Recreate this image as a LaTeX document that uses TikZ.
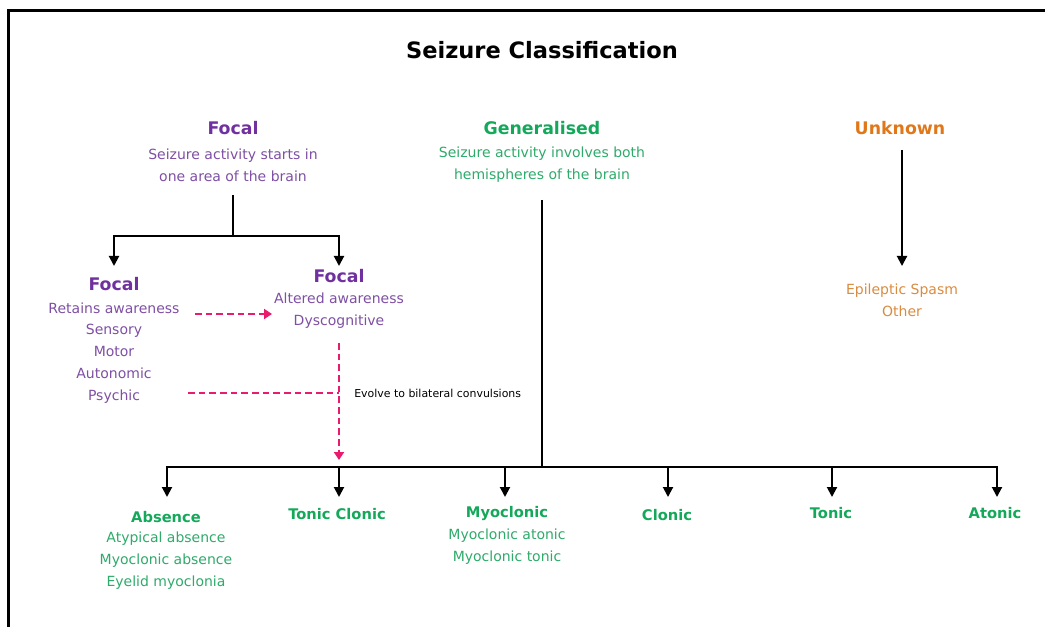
\documentclass[tikz,border=0pt]{standalone}
\usepackage{fontspec}
\setmainfont{DejaVu Sans}
\usetikzlibrary{arrows.meta,positioning,calc}
\definecolor{szpurple}{HTML}{7030A0}
\definecolor{szpurpletxt}{HTML}{7E4FA3}
\definecolor{szgreen}{HTML}{14A85A}
\definecolor{szgreentxt}{HTML}{2EAA6A}
\definecolor{szorange}{HTML}{E0781A}
\definecolor{szorangetxt}{HTML}{D98B3F}
\definecolor{szpink}{HTML}{EA1A6E}

\begin{document}
\begin{tikzpicture}[x=0.75pt,y=-0.75pt,
  head/.style={font=\fontsize{13}{16}\selectfont\bfseries, inner sep=0pt},
  subhead/.style={font=\fontsize{11}{14}\selectfont\bfseries, inner sep=0pt},
  body/.style={font=\fontsize{10.5}{16.4}\selectfont, align=center, inner sep=0pt},
  link/.style={draw=black, line width=1.5pt},
  arrow/.style={link, -{Triangle[length=7.5pt,width=7.5pt]}},
  evolve/.style={draw=szpink, line width=1.4pt, dash pattern=on 5pt off 3pt},
  evolvetip/.style={evolve, -{Triangle[length=6pt,width=7.5pt]}}
]
\useasboundingbox (0,0) rectangle (1045,627);
\draw[line width=2.25pt] (8,627) -- (8,11) -- (1045,11);

\node[font=\fontsize{16.9}{20}\selectfont\bfseries] (title) at (542,50) {Seizure Classification};

%% top level groups
\node[head, text=szpurple] (focal) at (233,128) {Focal};
\node[body, text=szpurpletxt] (focaldesc) at (233,165.5)
  {Seizure activity starts in\\one area of the brain};
\node[head, text=szgreen] (gen) at (542,128) {Generalised};
\node[body, text=szgreentxt] (gendesc) at (542,165)
  {Seizure activity involves both\\hemispheres of the brain};
\node[head, text=szorange] (unknown) at (900,128) {Unknown};
\node[body, text=szorangetxt] (unkdesc) at (902,300) {Epileptic Spasm\\Other};

%% focal subtypes
\node[head, text=szpurple] (aware) at (114,284) {Focal};
\node[body, text=szpurpletxt] (awarelist) at (114,353)
  {Retains awareness\\Sensory\\Motor\\Autonomic\\Psychic};
\node[head, text=szpurple] (altered) at (339,276) {Focal};
\node[body, text=szpurpletxt] (alteredlist) at (339,311)
  {Altered awareness\\Dyscognitive};

%% generalised subtypes
\node[subhead, text=szgreen] (absence) at (166,517) {Absence};
\node[body, text=szgreentxt] (absencelist) at (166,560.5)
  {Atypical absence\\Myoclonic absence\\Eyelid myoclonia};
\node[subhead, text=szgreen] (tonicclonic) at (337,514) {Tonic Clonic};
\node[subhead, text=szgreen] (myo) at (507,514) {Myoclonic};
\node[body, text=szgreentxt] (myolist) at (507,547)
  {Myoclonic atonic\\Myoclonic tonic};
\node[subhead, text=szgreen] (clonic) at (667,515) {Clonic};
\node[subhead, text=szgreen] (tonic) at (831,513) {Tonic};
\node[subhead, text=szgreen] (atonic) at (995,513) {Atonic};

%% tree connectors
\coordinate (fstem) at (233,195);
\coordinate (fjoin) at (233,236);
\coordinate (ftipl) at (114,266);
\coordinate (ftipr) at (339,266);
\draw[link] (fstem) -- (fjoin);
\draw[arrow] (fjoin) -| (ftipl);
\draw[arrow] (fjoin) -| (ftipr);

\coordinate (ustem) at (902,150);
\coordinate (utip) at (902,266);
\draw[arrow] (ustem) -- (utip);

\coordinate (gstem) at (542,200);
\coordinate (gjoin) at (542,467);
\draw[link] (gstem) -- (gjoin);
\foreach \x/\n in {167/absence,339/tonicclonic,505/myo,668/clonic,832/tonic,997/atonic}
  \draw[arrow] (gjoin) -| (\x,497);

%% evolving seizures
\coordinate (evstart) at (195,314);
\coordinate (evend) at (272,314);
\draw[evolvetip] (evstart) -- (evend);
\coordinate (bitop) at (339,343);
\coordinate (bitip) at (339,460);
\coordinate (bimid) at (339,393);
\coordinate (psyend) at (188,393);
\draw[evolvetip] (bitop) -- (bitip);
\draw[evolve] (psyend) -- (bimid);
\node[font=\fontsize{8.2}{10}\selectfont, anchor=west, inner sep=0pt] (evlabel) at (354,393)
  {Evolve to bilateral convulsions};
\end{tikzpicture}
\end{document}
